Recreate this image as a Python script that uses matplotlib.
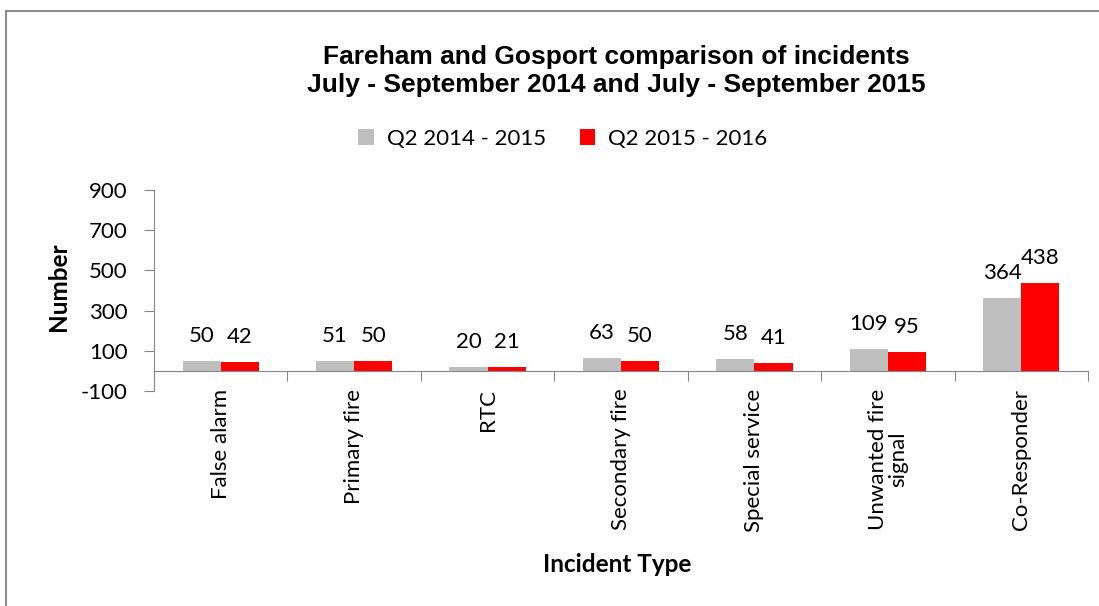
import numpy as np
import matplotlib
matplotlib.use("Agg")
import matplotlib.pyplot as plt
from matplotlib.lines import Line2D

categories = ["False alarm", "Primary fire", "RTC", "Secondary fire",
              "Special service", "Unwanted fire\nsignal", "Co-Responder"]
q2_2014 = [50, 51, 20, 63, 58, 109, 364]
q2_2015 = [42, 50, 21, 50, 41, 95, 438]
series_names = ["Q2 2014 - 2015", "Q2 2015 - 2016"]
yticks = [-100, 100, 300, 500, 700, 900]

GRAY = "#BFBFBF"
RED = "#FF0000"
AXIS = "#868686"
LBL_FONT = "Lato"
FS = 16

fig = plt.figure(figsize=(10.99, 6.06), dpi=100)
ax = fig.add_axes([154 / 1099, 1 - 391 / 606, (1088 - 154) / 1099, (391 - 190) / 606])

# frame round the chart area (only left and top edges are in view)
fig.lines.append(Line2D([6 / 1099, 6 / 1099], [0, 1 - 11 / 606], transform=fig.transFigure,
                        color="#8C8C8C", linewidth=1.5))
fig.lines.append(Line2D([6 / 1099, 1], [1 - 11 / 606, 1 - 11 / 606], transform=fig.transFigure,
                        color="#8C8C8C", linewidth=1.5))

x = np.arange(len(categories))
w = 1 / 3.5
b1 = ax.bar(x - w / 2, q2_2014, w, color=GRAY, label=series_names[0])
b2 = ax.bar(x + w / 2, q2_2015, w, color=RED, label=series_names[1])

for bars, vals in ((b1, q2_2014), (b2, q2_2015)):
    for r, v in zip(bars, vals):
        ax.annotate(str(v), (r.get_x() + r.get_width() / 2, v),
                    xytext=(0, 18), textcoords="offset points",
                    ha="center", va="center", fontsize=FS, family=LBL_FONT)

ax.set_xlim(-0.5, len(categories) - 0.5)
ax.set_ylim(-100, 900)
ax.set_yticks(yticks)
ax.set_yticklabels([str(t) for t in yticks], fontsize=FS, family=LBL_FONT)

ax.spines["top"].set_visible(False)
ax.spines["right"].set_visible(False)
ax.spines["left"].set_color(AXIS)
ax.spines["bottom"].set_color(AXIS)
ax.spines["bottom"].set_position(("data", 0))
ax.tick_params(axis="y", colors=AXIS, length=7, pad=12, labelcolor="black")

# category boundary ticks on the zero line
ax.set_xticks(np.arange(len(categories) + 1) - 0.5)
ax.set_xticklabels([])
ax.tick_params(axis="x", colors=AXIS, length=7, direction="out")
for i, c in enumerate(categories):
    ax.text(i, 0.012, c, transform=ax.get_xaxis_transform(), rotation=90,
            ha="center", va="top", fontsize=FS, family=LBL_FONT,
            multialignment="center", linespacing=1.0)

fig.text(59 / 1099, 1 - 287 / 606, "Number", rotation=90, ha="center", va="center",
         fontsize=17.5, fontweight="bold", family=LBL_FONT)
fig.text(617 / 1099, 1 - 564 / 606, "Incident Type", ha="center", va="center",
         fontsize=17.5, fontweight="bold", family=LBL_FONT)

fig.text(616 / 1099, 1 - 71 / 606,
         "Fareham and Gosport comparison of incidents\nJuly - September 2014 and July - September 2015",
         ha="center", va="center", fontsize=19, fontweight="bold",
         family="Liberation Sans", linespacing=1.18)

fig.legend(handles=[b1, b2], loc="center", bbox_to_anchor=(563 / 1099, 1 - 139 / 606),
           ncol=2, frameon=False, prop={"family": LBL_FONT, "size": FS},
           handlelength=0.7, handleheight=0.7, handletextpad=0.6, columnspacing=1.5)

fig.savefig("out.png", dpi=100)
